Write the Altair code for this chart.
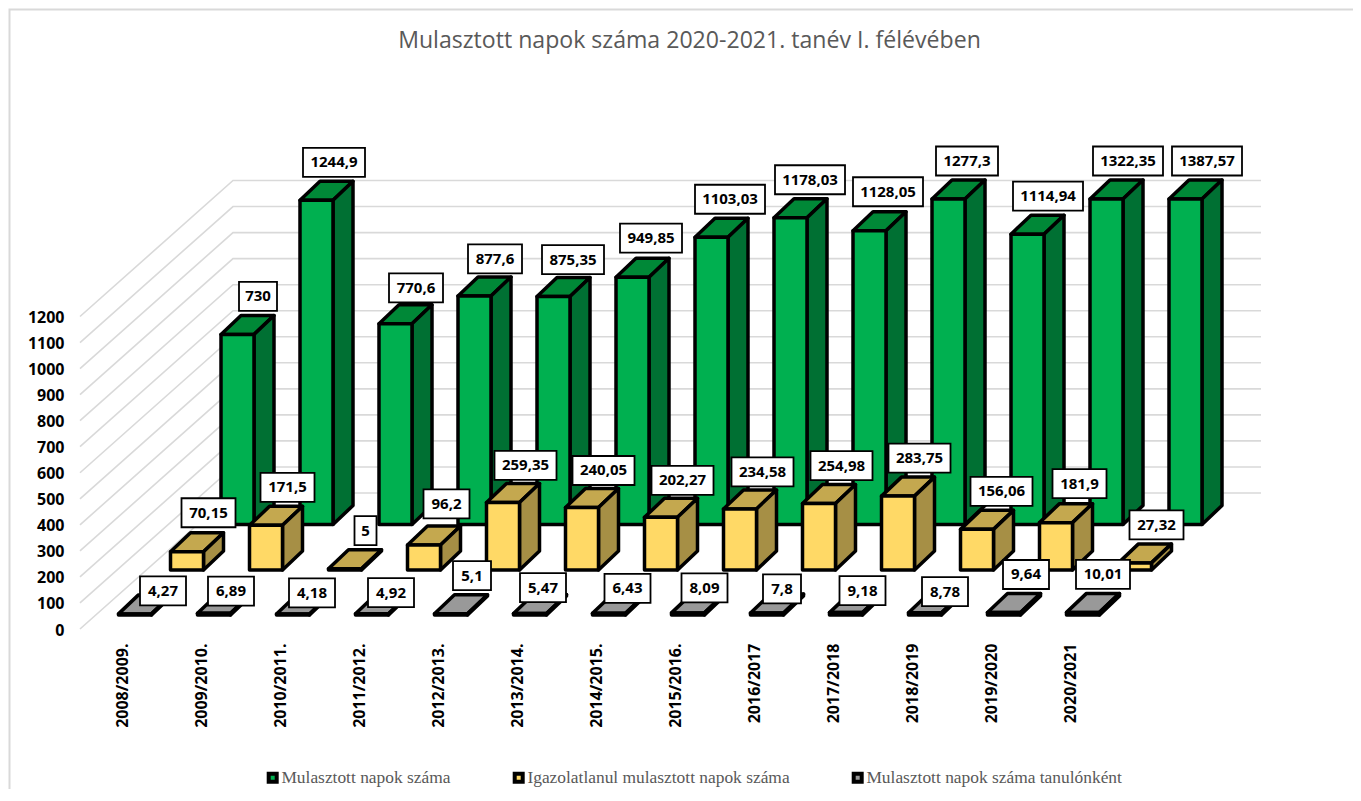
import altair as alt
import pandas as pd

title = "Mulasztott napok száma 2020-2021. tanév I. félévében"
categories = ["2008/2009.", "2009/2010.", "2010/2011.", "2011/2012.", "2012/2013.", "2013/2014.",
              "2014/2015.", "2015/2016.", "2016/2017", "2017/2018", "2018/2019", "2019/2020", "2020/2021"]
series_names = ["Mulasztott napok száma", "Igazolatlanul mulasztott napok száma",
                "Mulasztott napok száma tanulónként"]
missed = [730, 1244.9, 770.6, 877.6, 875.35, 949.85, 1103.03, 1178.03, 1128.05, 1277.3, 1114.94, 1322.35, 1387.57]
unexcused = [70.15, 171.5, 5, 96.2, 259.35, 240.05, 202.27, 234.58, 254.98, 283.75, 156.06, 181.9, 27.32]
per_student = [4.27, 6.89, 4.18, 4.92, 5.1, 5.47, 6.43, 8.09, 7.8, 9.18, 8.78, 9.64, 10.01]
labels_missed = ["730", "1244,9", "770,6", "877,6", "875,35", "949,85", "1103,03", "1178,03", "1128,05", "1277,3", "1114,94", "1322,35", "1387,57"]
labels_unexcused = ["70,15", "171,5", "5", "96,2", "259,35", "240,05", "202,27", "234,58", "254,98", "283,75", "156,06", "181,9", "27,32"]
labels_student = ["4,27", "6,89", "4,18", "4,92", "5,1", "5,47", "6,43", "8,09", "7,8", "9,18", "8,78", "9,64", "10,01"]
y_ticks = list(range(0, 1300, 100))

# Chart geometry, in screen pixels, turned into scale units below
PX_X = 79.0        # one category
PX_Y = 0.2604      # one value unit
X0, Y0 = 122.0, 629.0
LEFT, TOP, RIGHT = 70.0, 60.0, 1308.0
AXIS_MAX = 1250


def ux(p):
    return (p - X0) / PX_X


def uy(p):
    return (Y0 - p) / PX_Y


xscale = alt.Scale(domain=[ux(LEFT), ux(RIGHT)], nice=False, zero=False)
yscale = alt.Scale(domain=[uy(Y0), uy(TOP)], nice=False, zero=False)
label_expr = "[" + ",".join(f"'{c}'" for c in categories) + "][datum.value]"
BOLD = "Open Sans"
x_axis = alt.Axis(values=list(range(len(categories))), labelExpr=label_expr, labelAngle=270, labelAlign="right",
                  labelBaseline="middle", labelFont=BOLD, labelFontWeight="bold", labelFontSize=16, labelColor="#000000",
                  labelPadding=14, domain=False, ticks=False, grid=False, title=None, labelOverlap=False, labelFlush=False)
y_axis = alt.Axis(values=y_ticks, format="d", labelFont=BOLD, labelFontWeight="bold", labelFontSize=16, labelColor="#000000",
                  labelPadding=6, labelOffset=1, domain=False, ticks=False, grid=False, title=None, labelOverlap=False)
X = alt.X("x:Q", scale=xscale, axis=x_axis)
Y = alt.Y("y:Q", scale=yscale, axis=y_axis, stack=None)

color_scale = alt.Scale(domain=series_names, range=["#00B050", "#FFD966", "#999999"])
legend = alt.Legend(orient="none", legendX=192, legendY=709, direction="horizontal", columns=3, title=None,
                    symbolType="square", symbolSize=64, symbolStrokeColor="#000000", symbolStrokeWidth=4, symbolOffset=2,
                    labelFont="Liberation Serif", labelFontSize=17.4, labelColor="#595959", labelOffset=0,
                    columnPadding=55, labelLimit=400)

# Gridlines on the side wall and the back wall
WALL_L, WALL_B, WALL_R, WALL_DY = 80.0, 233.0, 1261.0, 136.0
grid_rows = []
for v in y_ticks:
    grid_rows += [dict(t=v, x=ux(WALL_L), y=v),
                  dict(t=v, x=ux(WALL_B), y=v + WALL_DY / PX_Y),
                  dict(t=v, x=ux(WALL_R), y=v + WALL_DY / PX_Y)]
grid = alt.Chart(pd.DataFrame(grid_rows)).mark_line(color="#d9d9d9", strokeWidth=1.6).encode(
    x=X, y=Y, detail="t:N", order="x:Q")

# Chart frame, left and top edge
frame = alt.Chart(pd.DataFrame([dict(i=0, x=ux(9.5), y=uy(801)), dict(i=1, x=ux(9.5), y=uy(9.5)),
                                dict(i=2, x=ux(1361), y=uy(9.5))])).mark_line(color="#d9d9d9", strokeWidth=2).encode(
    x=X, y=Y, order="i:Q")

BAR_W, DEP_X, DEP_Y = 33.0, 20.0, 19.0
rows = [
    dict(name=series_names[0], values=missed, left=221.0, base=524.5, front="#00B050", top="#008837", side="#007033"),
    dict(name=series_names[1], values=unexcused, left=170.5, base=570.0, front="#FFD966", top="#C4A84F", side="#A68F45"),
    dict(name=series_names[2], values=per_student, left=118.5, base=615.0, front="#999999", top="#999999", side="#7F7F7F"),
]
STROKE = dict(stroke="#000000", strokeWidth=3.5, strokeJoin="round")

layers = [frame, grid]
for r in rows:
    front_rows, side_rows, top_rows = [], [], []
    base_u = uy(r["base"])
    for i, v in enumerate(r["values"]):
        shown = min(v, AXIS_MAX)
        xl = i + (r["left"] - X0) / PX_X
        xr = xl + BAR_W / PX_X
        dx = DEP_X / PX_X
        dy = DEP_Y / PX_Y
        ytop = base_u + shown
        front_rows.append(dict(x=xl, x2=xr, y=base_u, y2=ytop, series=r["name"]))
        side_rows += [dict(b=i, x=xr, y=base_u, y2=ytop), dict(b=i, x=xr + dx, y=base_u + dy, y2=ytop + dy)]
        top_rows += [dict(b=i, y=ytop, x=xl, x2=xr), dict(b=i, y=ytop + dy, x=xl + dx, x2=xr + dx)]
    top_layer = alt.Chart(pd.DataFrame(top_rows)).mark_area(orient="horizontal", fill=r["top"], **STROKE).encode(
        x=X, x2="x2:Q", y=Y, detail="b:N")
    side_layer = alt.Chart(pd.DataFrame(side_rows)).mark_area(orient="vertical", fill=r["side"], **STROKE).encode(
        x=X, y=Y, y2="y2:Q", detail="b:N")
    front_layer = alt.Chart(pd.DataFrame(front_rows)).mark_rect(**STROKE).encode(
        x=X, x2="x2:Q", y=Y, y2="y2:Q",
        color=alt.Color("series:N", scale=color_scale, sort=None, legend=legend))
    layers += [top_layer, side_layer, front_layer]

# Data labels: white boxes above each bar
BOX_H = 29.0
green_nudge = [(37, 38), (34, 38), (37, 36), (37, 37), (36, 37), (35, 39), (35, 38), (36, 38), (35, 39), (35, 38), (37, 38), (38, 38), (38, 38)]
yellow_nudge = [(38, 39), (38, 38), (37, 38), (39, 41), (39, 37), (38, 37), (38, 37), (39, 37), (39, 38), (38, 38), (41, 38), (40, 39), (38, 38)]
gray_nudge = [(44.5, 23), (33.5, 22), (35.5, 21), (35.5, 21), (37.5, 38), (29.5, 26), (35, 25), (33, 25), (31.5, 24), (33, 22), (36.5, 21), (38.5, 38), (36.5, 38)]
box_rows = []
for r, texts, nudges in zip(rows, [labels_missed, labels_unexcused, labels_student], [green_nudge, yellow_nudge, gray_nudge]):
    for i, (v, t, (nx, ny)) in enumerate(zip(r["values"], texts, nudges)):
        shown = min(v, AXIS_MAX)
        cx = i + (r["left"] + nx - X0) / PX_X
        cy = uy(r["base"]) + shown + ny / PX_Y
        half = (8.0 * len(t) + 14.0) / 2.0 / PX_X
        box_rows.append(dict(x=cx - half, x2=cx + half, y=cy - BOX_H / 2 / PX_Y, y2=cy + BOX_H / 2 / PX_Y,
                             cx=cx, cy=cy, text=t))
box_df = pd.DataFrame(box_rows)
boxes = alt.Chart(box_df).mark_rect(fill="#ffffff", stroke="#000000", strokeWidth=1.8).encode(x=X, x2="x2:Q", y=Y, y2="y2:Q")
texts = alt.Chart(box_df).mark_text(font=BOLD, fontWeight="bold", fontSize=15, color="#000000", baseline="middle", align="center").encode(
    x=alt.X("cx:Q", scale=xscale, axis=x_axis), y=alt.Y("cy:Q", scale=yscale, axis=y_axis), text="text:N")
title_df = pd.DataFrame([dict(cx=ux(689.5), cy=uy(41), text=title)])
title_text = alt.Chart(title_df).mark_text(font="Open Sans", fontSize=23.1, color="#595959", baseline="middle", align="center").encode(
    x=alt.X("cx:Q", scale=xscale, axis=x_axis), y=alt.Y("cy:Q", scale=yscale, axis=y_axis), text="text:N")
layers += [boxes, texts, title_text]

chart = alt.layer(*layers).properties(
    width=RIGHT - LEFT, height=Y0 - TOP,
    autosize=alt.AutoSizeParams(type="none"),
    padding={"left": LEFT - 8, "top": TOP - 8, "right": 45, "bottom": 160},
).configure_view(stroke=None)
chart.save("out.html", embed_options={"renderer": "svg", "actions": False})
